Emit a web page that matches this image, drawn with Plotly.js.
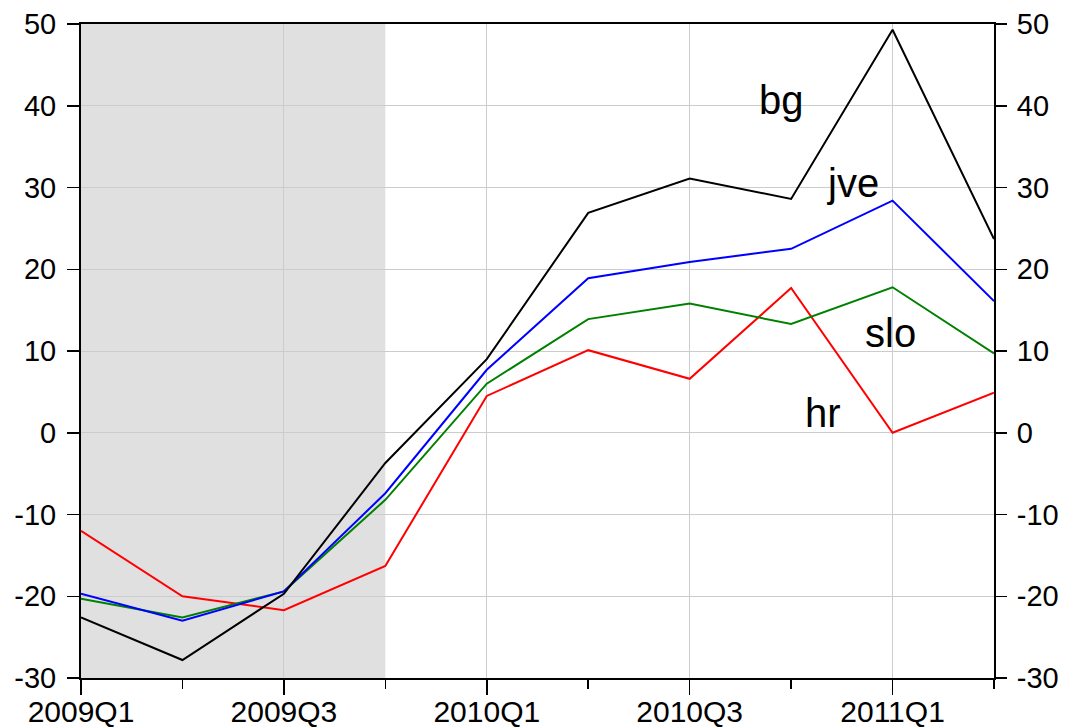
<!DOCTYPE html>
<html>
<head>
<meta charset="utf-8">
<script src="https://cdn.plot.ly/plotly-3.0.1.min.js"></script>
<style>html,body{margin:0;padding:0;background:#fff;}#chart{width:1065px;height:727px;}</style>
</head>
<body>
<div id="chart"></div>
<script>
var quarters = ["2009Q1","2009Q2","2009Q3","2009Q4","2010Q1","2010Q2","2010Q3","2010Q4","2011Q1","2011Q2"];
var bg  = [-22.6, -27.8, -19.7, -3.7, 9.0, 26.9, 31.1, 28.6, 49.3, 23.7];
var jve = [-19.7, -23.0, -19.4, -7.4, 7.7, 18.9, 20.9, 22.5, 28.4, 16.1];
var slo = [-20.3, -22.6, -19.4, -8.2, 6.0, 13.9, 15.8, 13.3, 17.8, 9.7];
var hr  = [-12.0, -20.0, -21.7, -16.3, 4.5, 10.1, 6.6, 17.7, 0.0, 4.9];
var recessionStart = "2009Q1", recessionEnd = "2009Q4";
var yTicks = [-30,-20,-10,0,10,20,30,40,50];
var yTickText = ["-30","-20","-10","0","10","20","30","40","50"];

var idx = quarters.map(function(_, i){ return i; });
function tr(name, ys, color){
  return {x: idx, y: ys, type: 'scatter', mode: 'lines', name: name,
          line: {color: color, width: 2}, hoverinfo: 'skip'};
}
var traces = [
  tr('hr', hr, '#ff0000'),
  tr('slo', slo, '#008000'),
  tr('jve', jve, '#0000ff'),
  tr('bg', bg, '#000000'),
  {x: [0], y: [0], yaxis: 'y2', type: 'scatter', mode: 'markers', marker: {opacity: 0}, showlegend: false, hoverinfo: 'skip'}
];

var fam = 'Liberation Sans, Arial, sans-serif';
var xTickFont = {family: fam, size: 30, color: '#000'};
var yTickFont = {family: fam, size: 29, color: '#000'};
var labelFont = {family: fam, size: 40, color: '#000'};
var majorIdx = idx.filter(function(i){ return i % 2 === 0; });

var layout = {
  width: 1065, height: 727,
  margin: {l: 81, r: 71, t: 24, b: 49},
  paper_bgcolor: '#fff', plot_bgcolor: '#fff',
  showlegend: false,
  xaxis: {
    range: [0, quarters.length - 1],
    tickmode: 'array', tickvals: majorIdx, ticktext: majorIdx.map(function(i){ return quarters[i]; }),
    ticks: 'outside', ticklen: 15, tickwidth: 1.5, tickcolor: '#000',
    ticklabelstandoff: -9,
    showgrid: true, gridcolor: '#cccccc', gridwidth: 1,
    showline: true, linecolor: '#000', linewidth: 2, mirror: true,
    zeroline: false, tickfont: xTickFont,
    minor: {tickvals: idx, ticks: 'outside', ticklen: 9, tickcolor: '#000', tickwidth: 1.5, showgrid: false}
  },
  yaxis: {
    range: [-30, 50], tickmode: 'array', tickvals: yTicks, ticktext: yTickText,
    ticks: 'outside', ticklen: 12, tickwidth: 1.5, tickcolor: '#000',
    ticklabelstandoff: 5,
    showgrid: true, gridcolor: '#cccccc', gridwidth: 1,
    showline: true, linecolor: '#000', linewidth: 2, mirror: true,
    zeroline: false, tickfont: yTickFont
  },
  yaxis2: {
    range: [-30, 50], overlaying: 'y', side: 'right', tickmode: 'array', tickvals: yTicks, ticktext: yTickText,
    ticks: 'outside', ticklen: 12, tickwidth: 1.5, tickcolor: '#000',
    ticklabelstandoff: 4,
    showgrid: false, showline: false, zeroline: false, tickfont: yTickFont
  },
  shapes: [{
    type: 'rect', xref: 'x', yref: 'paper', layer: 'below',
    x0: quarters.indexOf(recessionStart), x1: quarters.indexOf(recessionEnd),
    y0: 0, y1: 1, fillcolor: '#e0e0e0', line: {width: 0}
  }],
  annotations: [
    {x: 6.91, y: 40.7, text: 'bg', showarrow: false, font: labelFont, xanchor: 'center', yanchor: 'middle'},
    {x: 7.61, y: 30.5, text: 'jve', showarrow: false, font: labelFont, xanchor: 'center', yanchor: 'middle'},
    {x: 7.98, y: 12.2, text: 'slo', showarrow: false, font: labelFont, xanchor: 'center', yanchor: 'middle'},
    {x: 7.31, y: 2.4, text: 'hr', showarrow: false, font: labelFont, xanchor: 'center', yanchor: 'middle'}
  ]
};
Plotly.newPlot('chart', traces, layout, {displayModeBar: false, staticPlot: true});
</script>
</body>
</html>
